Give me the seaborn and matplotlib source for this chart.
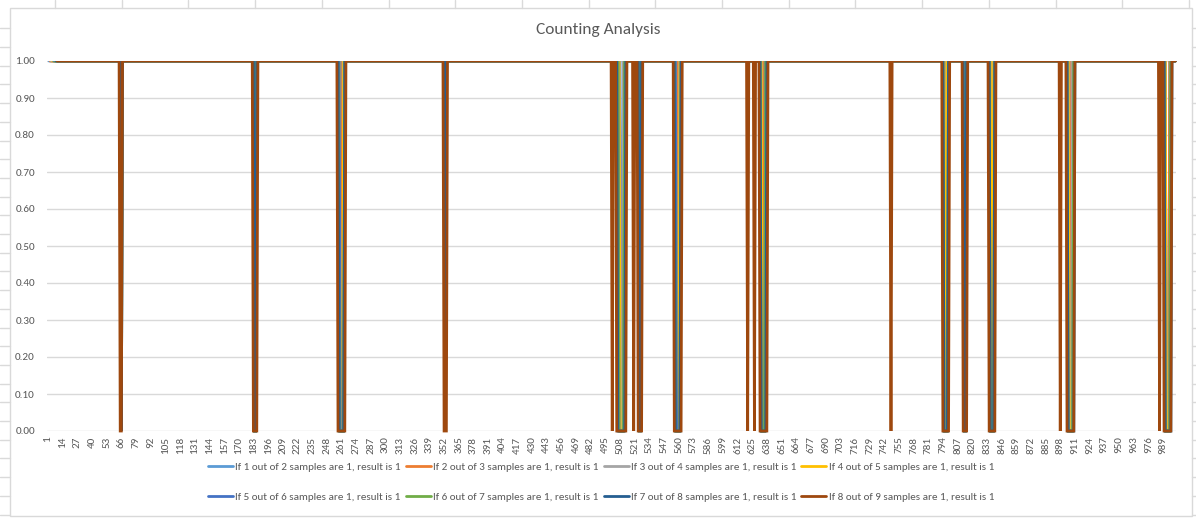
import numpy as np
import pandas as pd
import matplotlib
matplotlib.use("Agg")
import matplotlib.pyplot as plt
from matplotlib import font_manager
from matplotlib.lines import Line2D
from matplotlib.patches import Rectangle
import seaborn as sns

# ---------------------------------------------------------------- data
n_points = 1000

series_names = [
    "If 1 out of 2 samples are 1, result is 1",
    "If 2 out of 3 samples are 1, result is 1",
    "If 3 out of 4 samples are 1, result is 1",
    "If 4 out of 5 samples are 1, result is 1",
    "If 5 out of 6 samples are 1, result is 1",
    "If 6 out of 7 samples are 1, result is 1",
    "If 7 out of 8 samples are 1, result is 1",
    "If 8 out of 9 samples are 1, result is 1",
]
series_colors = ["#5B9BD5", "#ED7D31", "#A5A5A5", "#FFC000",
                 "#4472C4", "#70AD47", "#255E91", "#9E480E"]

# first sample index at which each rolling window is complete
first_sample = [2, 3, 4, 5, 6, 7, 8, 9]

# sample ranges (inclusive) where each rule gives 0
zeros_1of2 = [(261, 261), (509, 510), (559, 559), (635, 635), (796, 796),
              (837, 837), (907, 908), (992, 994)]
zeros_2of3 = [(261, 262), (508, 510), (559, 560), (634, 635), (796, 797),
              (837, 838), (907, 908), (992, 994)]
zeros_3of4 = [(184, 184), (260, 262), (508, 510), (558, 560), (634, 636),
              (796, 797), (837, 838), (906, 908), (992, 995)]
zeros_4of5 = [(184, 185), (260, 262), (508, 511), (558, 560), (634, 636),
              (796, 797), (837, 838), (906, 909), (992, 995)]
zeros_5of6 = [(66, 66), (184, 185), (260, 263), (353, 353), (507, 511),
              (526, 526), (558, 561), (633, 636), (795, 798), (813, 814),
              (836, 839), (905, 909), (991, 995)]
zeros_6of7 = [(66, 66), (184, 185), (259, 263), (353, 353), (507, 511),
              (525, 526), (557, 561), (633, 636), (795, 798), (813, 814),
              (836, 839), (905, 909), (991, 995)]
zeros_7of8 = [(66, 66), (184, 185), (259, 263), (353, 353), (506, 512),
              (525, 526), (557, 561), (633, 637), (795, 798), (813, 814),
              (836, 839), (905, 910), (991, 996)]
zeros_8of9 = [(65, 66), (183, 186), (258, 264), (352, 354), (501, 501),
              (505, 513), (520, 520), (524, 527), (556, 562), (621, 621),
              (627, 627), (632, 638), (748, 748), (794, 799), (812, 815),
              (835, 840), (898, 898), (904, 910), (986, 986), (990, 996)]

zero_ranges = [zeros_1of2, zeros_2of3, zeros_3of4, zeros_4of5,
               zeros_5of6, zeros_6of7, zeros_7of8, zeros_8of9]

x_tick_values = list(range(1, n_points + 1, 13))
y_tick_values = [0.0, 0.1, 0.2, 0.3, 0.4, 0.5, 0.6, 0.7, 0.8, 0.9, 1.0]

# ---------------------------------------------------------------- table
samples = np.arange(1, n_points + 1)
frames = []
for name, start, ranges in zip(series_names, first_sample, zero_ranges):
    result = np.ones(n_points)
    for lo, hi in ranges:
        result[(samples >= lo) & (samples <= hi)] = 0.0
    result[samples < start] = np.nan
    frames.append(pd.DataFrame({"sample": samples, "result": result,
                                "series": name}))
df = pd.concat(frames, ignore_index=True).dropna()

# ---------------------------------------------------------------- style
sns.set_theme(style="white")


def pick_font(candidates):
    available = {f.name for f in font_manager.fontManager.ttflist}
    for c in candidates:
        if c in available:
            return c
    return "DejaVu Sans"


label_font = pick_font(["Carlito", "Liberation Sans Narrow", "Liberation Sans"])
plt.rcParams["font.family"] = [label_font, "DejaVu Sans"]
text_gray = "#595959"
grid_gray = "#D9D9D9"

W, H = 1196, 518
fig = plt.figure(figsize=(W / 100, H / 100), dpi=100)
fig.patch.set_facecolor("white")

# plot area: sample 1 at x=48px, 1.00 at y=61px, 0.00 at y=431px
px_per_sample = 1.1285
left_px = 48 - 0.5 * px_per_sample
ax = fig.add_axes([left_px / W, (H - 431) / H,
                   n_points * px_per_sample / W, 370 / H])

sns.lineplot(data=df, x="sample", y="result", hue="series",
             hue_order=series_names, palette=series_colors,
             estimator=None, errorbar=None, linewidth=2.0,
             legend=False, ax=ax)

# clip the lines at the top of the plot area only
clip_box = Rectangle((-0.01, -0.05), 1.02, 1.05, transform=ax.transAxes,
                     visible=False)
ax.add_patch(clip_box)
for line in ax.lines:
    line.set_clip_path(clip_box)
    line.set_solid_joinstyle("miter")

ax.set_xlim(0.5, n_points + 0.5)
ax.set_ylim(0, 1)
ax.set_xlabel("")
ax.set_ylabel("")
ax.set_yticks(y_tick_values)
ax.set_yticklabels([f"{v:.2f}" for v in y_tick_values])
ax.set_xticks(x_tick_values)
ax.set_xticklabels([str(v) for v in x_tick_values], rotation=90)
ax.tick_params(axis="y", length=0, pad=9, labelsize=8, labelcolor=text_gray)
ax.tick_params(axis="x", length=0, pad=4, labelsize=8, labelcolor=text_gray)
ax.yaxis.grid(True, color=grid_gray, linewidth=1.0)
ax.xaxis.grid(False)
ax.set_axisbelow(True)
for s in ax.spines.values():
    s.set_visible(False)
ax.set_facecolor("white")

fig.text(598 / W, 1 - 30 / H, "Counting Analysis", ha="center", va="center",
         fontsize=12.5, color=text_gray)

# legend filled row by row: 4 columns, 2 rows
order = [0, 4, 1, 5, 2, 6, 3, 7]
handles = [Line2D([], [], color=series_colors[i], linewidth=2.0) for i in order]
labels = [series_names[i] for i in order]
fig.legend(handles, labels, loc="center",
           bbox_to_anchor=(601 / W, 1 - 482 / H), ncol=4, frameon=False,
           fontsize=8, labelcolor=text_gray, handlelength=2.25,
           handletextpad=0.2, columnspacing=0.45, labelspacing=1.85)

# chart frame and the surrounding sheet grid
fig.add_artist(Rectangle((10 / W, 1 - 516 / H), 1182 / W, 508 / H,
                         transform=fig.transFigure, fill=False,
                         edgecolor=grid_gray, linewidth=1.0))
sheet_gray = "#DADADA"
for xc in np.arange(55, W, 66.7):
    fig.add_artist(Line2D([xc / W, xc / W], [1, 1 - 8 / H],
                          transform=fig.transFigure, color=sheet_gray, lw=1))
for yc in np.arange(28.3, H, 18.7):
    fig.add_artist(Line2D([0, 10 / W], [1 - yc / H, 1 - yc / H],
                          transform=fig.transFigure, color=sheet_gray, lw=1))
    fig.add_artist(Line2D([1192 / W, 1], [1 - yc / H, 1 - yc / H],
                          transform=fig.transFigure, color=sheet_gray, lw=1))

fig.savefig("out.png", dpi=100)
